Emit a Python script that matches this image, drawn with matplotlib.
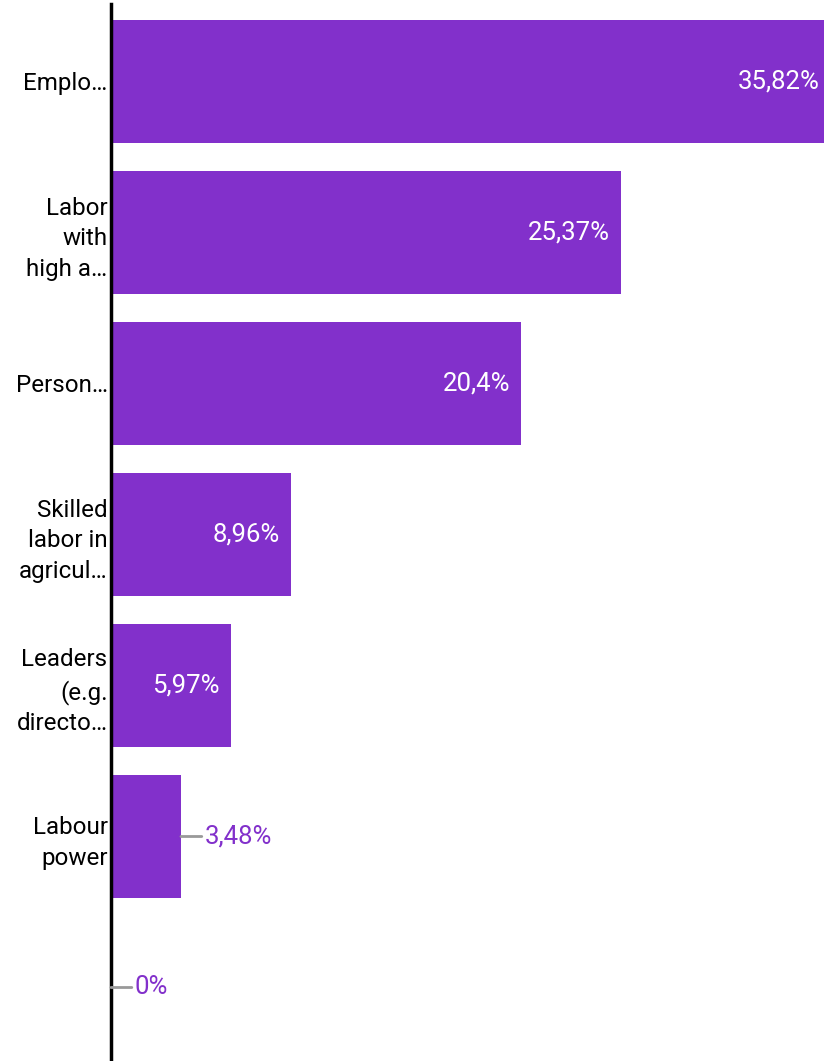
import matplotlib
matplotlib.use("Agg")
import matplotlib.pyplot as plt

plt.rcParams['font.family'] = ['Roboto', 'DejaVu Sans']

categories = ["Emplo…", "Labor\nwith\nhigh a…", "Person…", "Skilled\nlabor in\nagricul…",
              "Leaders\n(e.g.\ndirecto…", "Labour\npower", ""]
values = [35.82, 25.37, 20.4, 8.96, 5.97, 3.48, 0.0]
value_labels = ["35,82%", "25,37%", "20,4%", "8,96%", "5,97%", "3,48%", "0%"]

purple = "#8230CB"

fig = plt.figure(figsize=(8.24, 10.61), dpi=100)
ax = fig.add_axes([111/824, -2/1061, 1 - 111/824, 1059/1061])

pos = list(range(len(categories)))
ax.barh(pos, values, height=0.81, color=purple)
ax.set_ylim(len(categories) - 0.5, -0.513)
ax.set_xlim(0, 35.47)

ax.set_yticks(pos)
ax.set_yticklabels(categories, fontsize=17.4, linespacing=1.42, ha="right")
ax.tick_params(axis="y", length=0, pad=2.5)
ax.set_xticks([])
for s in ["top", "right", "bottom"]:
    ax.spines[s].set_visible(False)
ax.spines["left"].set_linewidth(2.5)
ax.spines["left"].set_color("black")

for p, v, lab in zip(pos, values, value_labels):
    if v > 5:
        ax.annotate(lab, xy=(v, p), xytext=(-8, 0), textcoords="offset points",
                    ha="right", va="center", color="white", fontsize=18.5,
                    annotation_clip=False)
    else:
        ax.annotate(lab, xy=(v, p), xytext=(17, 0), textcoords="offset points",
                    ha="left", va="center", color=purple, fontsize=18.5,
                    arrowprops=dict(arrowstyle="-", color="#999999", lw=2,
                                    shrinkA=0, shrinkB=0))

fig.savefig("out.png", dpi=100)
